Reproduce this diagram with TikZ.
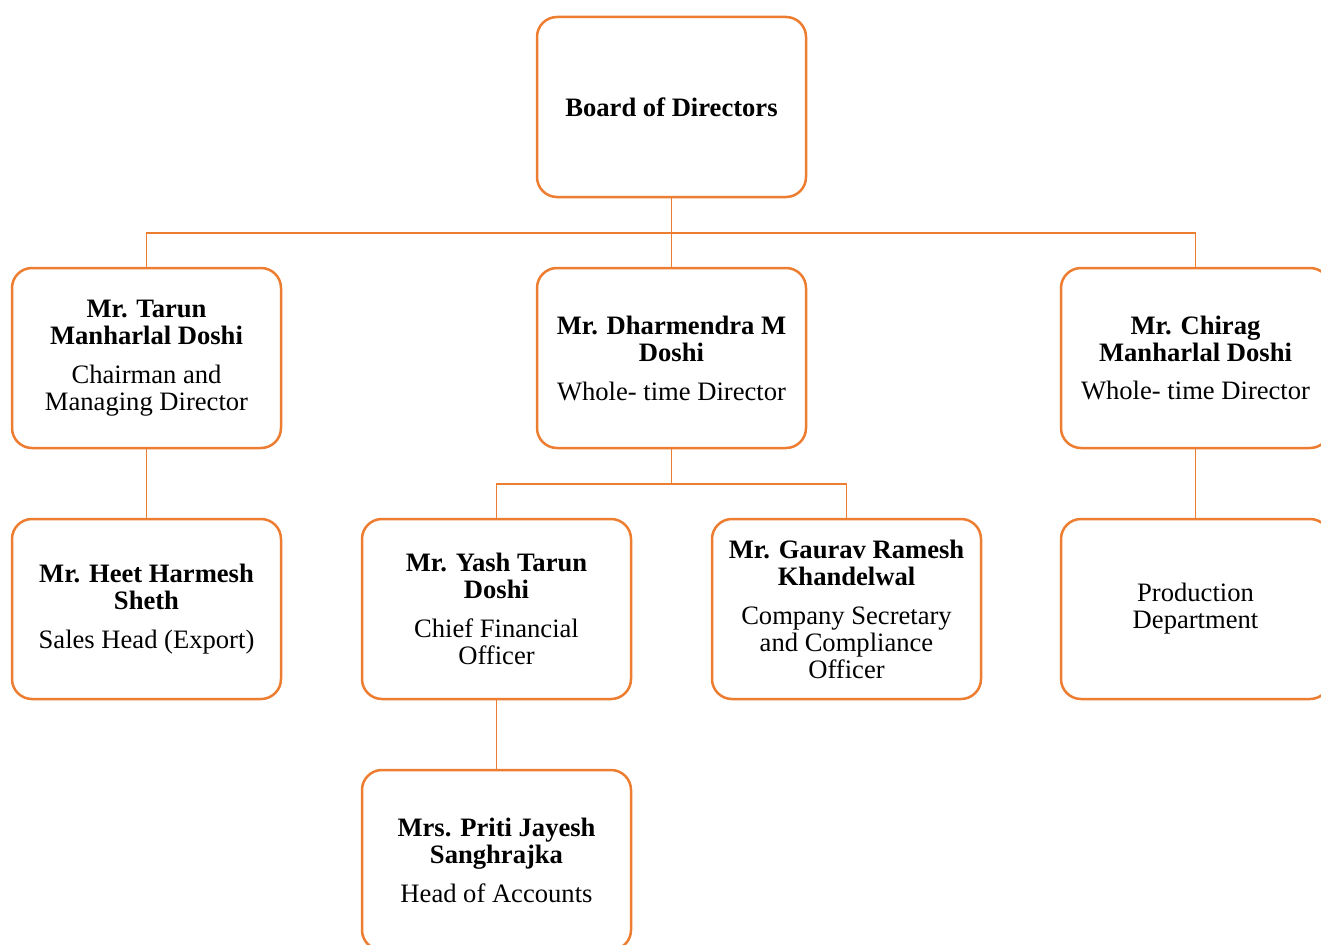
\documentclass[tikz,border=0pt]{standalone}
\usepackage{fontspec}
\setmainfont{Liberation Serif}
\definecolor{orgline}{HTML}{ED7D31}
\begin{document}
\begin{tikzpicture}[x=1pt,y=-1pt,
  orgbox/.style={draw=orgline,line width=2.5pt,rounded corners=20pt,fill=white,
    minimum width=269pt,minimum height=180pt,inner sep=0pt,align=center,
    font=\fontsize{26.6}{27}\selectfont},
  conn/.style={draw=orgline,line width=1.4pt}]
\useasboundingbox (0,0) rectangle (1321,944);
\clip (0,0) rectangle (1321,944);
% connectors first
\coordinate (bus1) at (671.5,233);
\coordinate (bus2) at (671.5,484);
\node[orgbox] (board) at (671.5,107) {\textbf{Board of Directors}};
\node[orgbox] (tarun) at (146.5,358) {\textbf{Mr. Tarun}\\\textbf{Manharlal Doshi}\\[12pt]Chairman and\\Managing Director};
\node[orgbox] (dharm) at (671.5,358) {\textbf{Mr. Dharmendra M}\\\textbf{Doshi}\\[12pt]Whole- time Director};
\node[orgbox] (chirag) at (1195.5,358) {\textbf{Mr. Chirag}\\\textbf{Manharlal Doshi}\\[11pt]Whole- time Director};
\node[orgbox] (heet) at (146.5,609) {\textbf{Mr. Heet Harmesh}\\\textbf{Sheth}\\[12pt]Sales Head (Export)};
\node[orgbox] (yash) at (496.5,609) {\textbf{Mr. Yash Tarun}\\\textbf{Doshi}\\[12pt]Chief Financial\\Officer};
\node[orgbox] (gaurav) at (846.5,609) {\textbf{Mr. Gaurav Ramesh}\\\textbf{Khandelwal}\\[12pt]Company Secretary\\and Compliance\\Officer};
\node[orgbox] (prod) at (1195.5,609) {Production\\Department};
\node[orgbox] (priti) at (496.5,860) {\textbf{Mrs. Priti Jayesh}\\\textbf{Sanghrajka}\\[12pt]Head of Accounts};
\draw[conn] (board.south) -- (bus1);
\draw[conn] (tarun.north) |- (bus1) -| (chirag.north);
\draw[conn] (bus1) -- (dharm.north);
\draw[conn] (tarun.south) -- (heet.north);
\draw[conn] (chirag.south) -- (prod.north);
\draw[conn] (dharm.south) -- (bus2);
\draw[conn] (yash.north) |- (bus2) -| (gaurav.north);
\draw[conn] (yash.south) -- (priti.north);
\end{tikzpicture}
\end{document}
